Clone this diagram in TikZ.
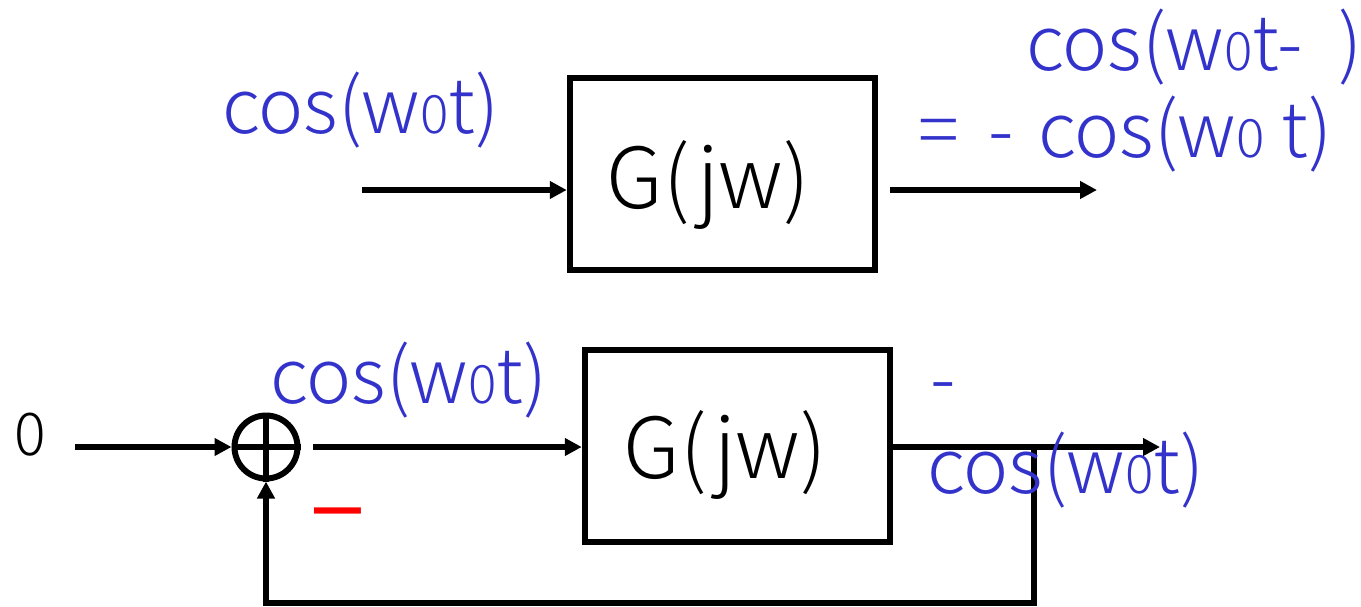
\documentclass[tikz,border=0pt]{standalone}
\usepackage{fontspec}
\setmainfont{Noto Sans CJK JP Light}
\newfontfamily\minusfont{DejaVu Sans}
\usetikzlibrary{arrows.meta}
\definecolor{sigblue}{RGB}{51,51,204}
\newcommand{\wzero}{w{\fontsize{53}{53}\selectfont 0}}

\begin{document}
\begin{tikzpicture}[x=1pt, y=-1pt, >={Triangle[length=17pt,width=17pt]},
    block/.style={draw, line width=6.5pt, minimum width=305pt, minimum height=192pt, inner sep=0pt},
    blocklbl/.style={anchor=base, inner sep=0pt, font=\fontsize{84}{84}\selectfont},
    signal/.style={sigblue, anchor=base west, inner sep=0pt, font=\fontsize{76}{76}\selectfont},
    wire/.style={line width=6pt}]
    \useasboundingbox (0,0) rectangle (1361,606);

    % open loop
    \node[block] (gtop) at (722.5,174) {};
    \node[blocklbl] (gtoplbl) at (708,208) {G(jw)};
    \coordinate (intop) at (362,190);
    \coordinate (outtopa) at (890,190);
    \coordinate (outtopb) at (1097,190);
    \draw[wire, ->] (intop) -- (intop -| gtop.west);
    \draw[wire, ->] (outtopa) -- (outtopb);

    \node[signal] (intoptxt) at (222,133) {cos(\wzero t)};
    \node[signal] (outtoptxt) at (1026,70) {cos(\wzero t-\hspace{36pt})};
    \node[signal] (outtoptxtb) at (918,157) {=\hspace{30pt}-\hspace{24pt}cos(\wzero\ t)};

    % closed loop
    \node[anchor=base, inner sep=0pt, font=\fontsize{59}{59}\selectfont] (zero) at (30,455) {0};
    \node[draw, circle, line width=6pt, minimum size=63pt, inner sep=0pt] (sum) at (266,447) {};
    \draw[wire] (sum.north) -- (sum.south);
    \draw[wire] (sum.west) -- (sum.east);
    \node[block] (gbot) at (737.5,446) {};
    \node[blocklbl] (gbotlbl) at (725,478) {G(jw)};

    \coordinate (inbot) at (75,447);
    \coordinate (sumout) at (313,447);
    \coordinate (outbot) at (1160,447);
    \coordinate (tap) at (1034,447);
    \coordinate (fb) at (1034,603);
    \draw[wire, ->] (inbot) -- (sum.west);
    \draw[wire, ->] (sumout) -- (sumout -| gbot.west);
    \draw[wire, ->] (gbot.east |- outbot) -- (outbot);
    \draw[wire, ->] (tap) -- (fb) -| (sum.south);

    \node[signal] (errtxt) at (270,403) {cos(\wzero t)};
    \node[signal] (outbotdash) at (930,405) {-};
    \node[signal] (outbottxt) at (927,493) {cos(\wzero t)};
    \node[red, inner sep=0pt, font=\minusfont\fontsize{75}{75}\selectfont] (minus) at (338,521) {−};
\end{tikzpicture}
\end{document}
